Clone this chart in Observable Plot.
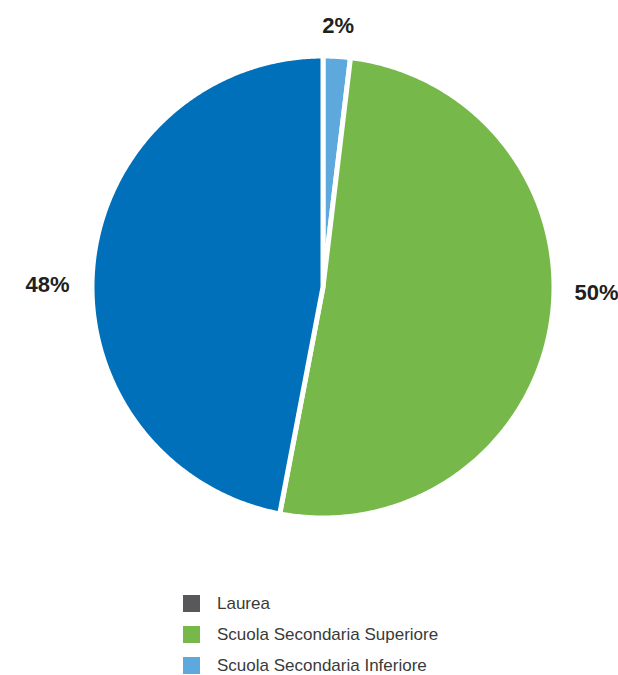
<!DOCTYPE html>
<html><head><meta charset="utf-8">
<script src="https://cdn.jsdelivr.net/npm/d3@7"></script>
<script src="https://cdn.jsdelivr.net/npm/@observablehq/plot@0.6"></script>
<style>
body{margin:0;background:#fff;font-family:"Liberation Sans",Arial,sans-serif;}
#chart svg{display:block;}
#legend{margin:15px 0 0 183px;}
.row{display:flex;align-items:center;height:17px;margin-bottom:14px;}
.sw{width:17px;height:17px;margin-right:17px;flex:none;}
.lb{font-size:17px;color:#3a3a3a;white-space:nowrap;}
</style></head><body><div id="chart"></div><div id="legend"></div>
<script>
// Legend (as shown in the reference)
const legendNames = ["Laurea", "Scuola Secondaria Superiore", "Scuola Secondaria Inferiore"];
const legendColors = ["#58585a", "#77b84b", "#5da8dc"];

// Pie slices, clockwise from 12 o'clock
const sliceNames = ["Scuola Secondaria Inferiore", "Scuola Secondaria Superiore", "Laurea"];
const sliceValues = [1.9, 51.1, 47.0];
const sliceColors = ["#5da8dc", "#77b84b", "#0070ba"];
const sliceLabels = ["2%", "50%", "48%"];

// layout
const W = 618, H = 580, CX = 322.5, CY = 286.5, R = 228.5, GAP = 5, LABEL_PAD = 26;

const total = d3.sum(sliceValues);
let acc = 0;
const slices = sliceValues.map((v, i) => {
  const a0 = acc / total * 2 * Math.PI;
  acc += v;
  const a1 = acc / total * 2 * Math.PI;
  return {name: sliceNames[i], color: sliceColors[i], label: sliceLabels[i], a0, a1, mid: (a0 + a1) / 2};
});

const rOuter = 1 + (GAP / 2) / R;
const polyPts = [];
slices.forEach((s, i) => {
  polyPts.push({slice: i, x: 0, y: 0, color: s.color});
  const n = Math.max(2, Math.ceil((s.a1 - s.a0) / (Math.PI / 360)));
  for (let k = 0; k <= n; k++) {
    const a = s.a0 + (s.a1 - s.a0) * k / n;
    polyPts.push({slice: i, x: rOuter * Math.sin(a), y: rOuter * Math.cos(a), color: s.color});
  }
});

const lr = 1 + LABEL_PAD / R;
const labelData = slices.map(s => {
  const sx = Math.sin(s.mid), cy = Math.cos(s.mid);
  const side = Math.abs(sx) > 0.5;
  return {
    text: s.label,
    x: sx * lr,
    y: cy * Math.abs(cy) * lr,
    anchor: side ? (sx > 0 ? "start" : "end") : "middle",
    lineAnchor: side ? "middle" : (cy > 0 ? "bottom" : "top")
  };
});

const textMark = (anchor, lineAnchor) => Plot.text(labelData.filter(d => d.anchor === anchor && d.lineAnchor === lineAnchor), {
  x: "x", y: "y", text: "text", textAnchor: anchor, lineAnchor,
  fontSize: 22, fontWeight: "bold", fill: "#231f20", fontFamily: "Liberation Sans, Arial, sans-serif"
});

const chart = Plot.plot({
  width: W, height: H, margin: 0,
  x: {domain: [-CX / R, (W - CX) / R], axis: null},
  y: {domain: [-(H - CY) / R, CY / R], axis: null},
  marks: [
    Plot.line(polyPts, {x: "x", y: "y", z: "slice", fill: "color", stroke: "white", strokeWidth: GAP,
      strokeLinejoin: "round", curve: "linear-closed"}),
    textMark("start", "middle"), textMark("end", "middle"),
    textMark("middle", "bottom"), textMark("middle", "top")
  ]
});
document.getElementById("chart").append(chart);

const legend = document.getElementById("legend");
legendNames.forEach((n, i) => {
  const row = document.createElement("div"); row.className = "row";
  const sw = document.createElement("div"); sw.className = "sw"; sw.style.background = legendColors[i];
  const lb = document.createElement("div"); lb.className = "lb"; lb.textContent = n;
  row.append(sw, lb); legend.append(row);
});
</script></body></html>
